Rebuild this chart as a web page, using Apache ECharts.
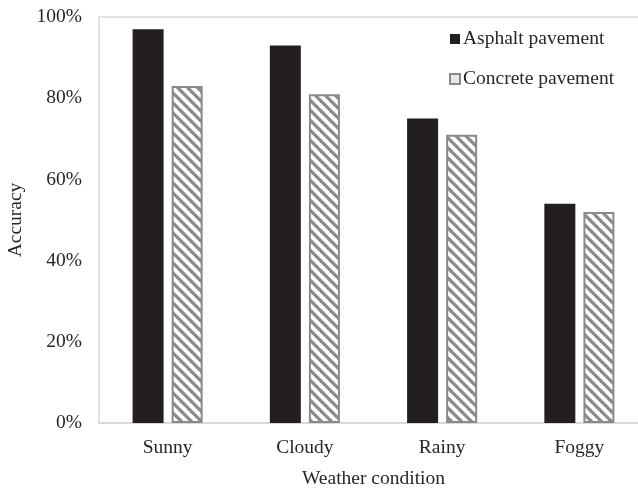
<!DOCTYPE html>
<html>
<head>
<meta charset="utf-8">
<script src="https://cdn.jsdelivr.net/npm/echarts@6/dist/echarts.min.js"></script>
<style>html,body{margin:0;padding:0;background:#fff}#c{width:638px;height:490px}</style>
</head>
<body>
<div id="c"></div>
<script>
const categories = ['Sunny', 'Cloudy', 'Rainy', 'Foggy'];
const asphalt = [0.97, 0.93, 0.75, 0.54];
const concrete = [0.83, 0.81, 0.71, 0.52];
const seriesNames = ['Asphalt pavement', 'Concrete pavement'];

function makePattern() {
  const s = 10;
  const cv = document.createElement('canvas');
  cv.width = s; cv.height = s;
  const ctx = cv.getContext('2d');
  ctx.fillStyle = '#ffffff';
  ctx.fillRect(0, 0, s, s);
  ctx.strokeStyle = '#8a8a8a';
  ctx.lineWidth = 3.2;
  for (let k = -1; k <= 1; k++) {
    ctx.beginPath();
    ctx.moveTo(k * s - 1, -1);
    ctx.lineTo(k * s + s + 1, s + 1);
    ctx.stroke();
  }
  return cv;
}

const font = '"Liberation Serif", "Times New Roman", serif';
const fs = 19.5;
const chart = echarts.init(document.getElementById('c'), null, {renderer: 'canvas'});
chart.setOption({
  animation: false,
  backgroundColor: '#fff',
  textStyle: {fontFamily: font},
  grid: {left: 99, top: 17, width: 549, height: 406, containLabel: false, outerBoundsMode: 'none',
    show: true, borderColor: '#d9d9d9', borderWidth: 1.5, backgroundColor: 'transparent'},
  legend: {
    orient: 'vertical',
    left: 444, top: 24,
    itemWidth: 10, itemHeight: 10, itemGap: 20,
    textStyle: {fontFamily: font, fontSize: fs, color: '#262626', padding: [0, 0, 0, -2]},
    data: [
      {name: seriesNames[0], icon: 'rect', itemStyle: {color: '#231f20', borderWidth: 0}},
      {name: seriesNames[1], icon: 'rect', itemStyle: {color: '#e8e8e8', borderColor: '#8a8a8a', borderWidth: 2}}
    ]
  },
  xAxis: {
    type: 'category',
    data: categories,
    name: 'Weather condition',
    nameLocation: 'middle',
    nameGap: 46,
    nameTextStyle: {fontFamily: font, fontSize: fs, color: '#262626'},
    axisLine: {lineStyle: {color: '#d9d9d9', width: 2}},
    axisTick: {show: false},
    axisLabel: {fontFamily: font, fontSize: fs, color: '#262626', margin: 15}
  },
  yAxis: {
    type: 'value',
    min: 0, max: 1, interval: 0.2,
    name: 'Accuracy',
    nameLocation: 'middle',
    nameGap: 71,
    nameTextStyle: {fontFamily: font, fontSize: fs, color: '#262626'},
    axisLine: {show: false},
    axisTick: {show: false},
    splitLine: {show: false},
    axisLabel: {fontFamily: font, fontSize: fs, color: '#262626', margin: 17,
      formatter: v => Math.round(v * 100) + '%'}
  },
  series: [
    {name: seriesNames[0], type: 'bar', data: asphalt, barWidth: 31, barGap: '26%',
      itemStyle: {color: '#231f20'}},
    {name: seriesNames[1], type: 'bar', data: concrete, barWidth: 31,
      itemStyle: {color: {image: makePattern(), repeat: 'repeat'}, borderColor: '#8a8a8a', borderWidth: 2}}
  ]
});
</script>
</body>
</html>
